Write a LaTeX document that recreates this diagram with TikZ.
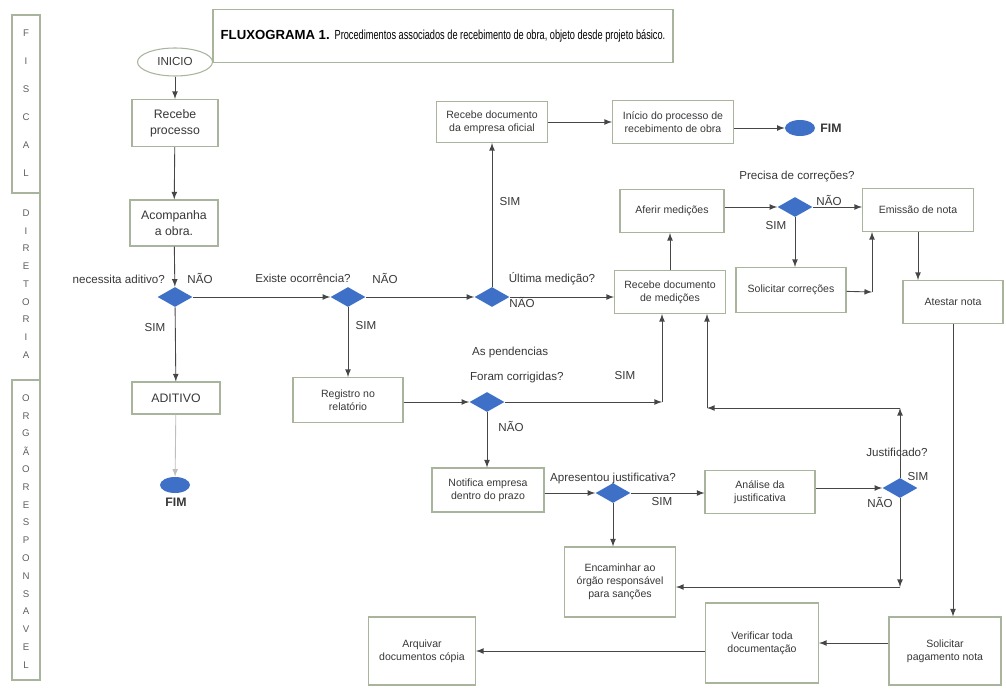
\documentclass[tikz,border=0pt]{standalone}
\usepackage{fontspec}
\setmainfont{Liberation Sans}
\usetikzlibrary{shapes.geometric}
\tikzset{>=latex}
\definecolor{boxline}{RGB}{168,180,156}
\definecolor{dblue}{RGB}{62,112,200}
\definecolor{wire}{RGB}{70,70,70}
\definecolor{ink}{RGB}{55,55,55}
\tikzset{%
    proc/.style n args={2}{draw=boxline, line width=0.6pt,%
        minimum width=#1*0.02cm, minimum height=#2*0.02cm, inner sep=1pt,%
        align=center, text=ink, font=\fontsize{6}{7.5}\selectfont%
    },%
    bigtxt/.style={font=\fontsize{7}{9}\selectfont},%
    dec/.style={diamond, fill=dblue, inner sep=0pt, minimum width=0.7cm, minimum height=0.4cm},%
    endpt/.style={ellipse, fill=dblue, inner sep=0pt, minimum width=0.6cm, minimum height=0.32cm},%
    lbl/.style={font=\fontsize{6.6}{8}\selectfont, text=ink, inner sep=1pt},%
    side/.style={font=\fontsize{5.5}{7}\selectfont, text=ink!80},%
    flow/.style={->, draw=wire, line width=0.5pt}%
}

\begin{document}
\begin{tikzpicture}[x=0.02cm,y=-0.02cm]
  \useasboundingbox (0,0) rectangle (1006,689);
  % side bar
  \draw[boxline, line width=0.7pt] (12,15) rectangle (40,193);
  \draw[boxline, line width=0.7pt] (40,193) -- (40,380);
  \draw[boxline, line width=0.7pt] (12,380) rectangle (40,680);
  \foreach \c [count=\i] in {F,I,S,C,A,L}
    \node[side] at (26,5+28*\i) {\c};
  \foreach \c [count=\i] in {D,I,R,E,T,O,R,I,A}
    \node[side] at (26,195.25+17.75*\i) {\c};
  \foreach \c [count=\i] in {O,R,G,Ã,O,R,E,S,P,O,N,S,A,V,E,L}
    \node[side] at (26,380.2+17.8*\i) {\c};

  % title
  \node[draw=boxline, line width=1pt, minimum width=460*0.02cm, minimum height=53*0.02cm,
        font=\fontsize{7.5}{9}\selectfont] (title) at (443,36)
    {\textbf{FLUXOGRAMA 1.} \scalebox{0.7}[1]{Procedimentos associados de recebimento de obra, objeto desde projeto básico.}};

  % nodes
  \node[draw=boxline, ellipse, line width=0.6pt, minimum width=75*0.02cm, minimum height=28*0.02cm,
        inner sep=0pt, lbl] (inicio) at (175,62) {INICIO};
  \node[proc={86}{47}, bigtxt] (receb) at (175,123) {Recebe\\processo};
  \node[proc={88}{46}, bigtxt] (acomp) at (174,223) {Acompanha\\a obra.};
  \node[dec] (d1) at (175,297) {};
  \node[proc={88}{32}, bigtxt] (aditivo) at (176,398) {ADITIVO};
  \node[endpt] (fim1) at (175,485) {};
  \node[lbl, font=\bfseries\fontsize{7}{9}\selectfont] (fim1t) at (176,502) {FIM};

  \node[dec] (d2) at (348,297) {};
  \node[proc={110}{45}] (registro) at (348,400) {Registro no\\relatório};
  \node[dec] (d3) at (492,297) {};
  \node[proc={111}{41}] (recemp) at (492,122) {Recebe documento\\da empresa oficial};
  \node[proc={121}{43}] (inicproc) at (673,122) {Início do processo de\\recebimento de obra};
  \node[endpt] (fim2) at (800,128) {};
  \node[lbl, font=\bfseries\fontsize{7}{9}\selectfont] (fim2t) at (831,128) {FIM};
  \node[proc={111}{43}] (recmed) at (670,292) {Recebe documento\\de medições};
  \node[proc={104}{43}] (aferir) at (672,211) {Aferir medições};
  \node[dec] (d4) at (795,207) {};
  \node[proc={111}{43}] (emissao) at (918,210) {Emissão de nota};
  \node[proc={110}{45}] (solcorr) at (791,290) {Solicitar correções};
  \node[proc={100}{43}] (atestar) at (953,302) {Atestar nota};
  \node[proc={112}{68}] (solpag) at (945,651) {Solicitar\\pagamento nota};
  \node[proc={113}{80}] (verif) at (762,643) {Verificar toda\\documentação};
  \node[proc={107}{68}] (arquivar) at (422,651) {Arquivar\\documentos cópia};
  \node[dec] (d5) at (487,402) {};
  \node[proc={112}{44}] (notif) at (488,490) {Notifica empresa\\dentro do prazo};
  \node[dec] (d6) at (613,493) {};
  \node[proc={110}{43}] (analise) at (760,492) {Análise da\\justificativa};
  \node[proc={111}{70}] (encam) at (620,582) {Encaminhar ao\\órgão responsável\\para sanções};
  \node[dec] (d7) at (900,488) {};

  % bends
  \coordinate (c5) at (662,402);
  \coordinate (c7a) at (900,408);
  \coordinate (c7b) at (707,408);
  \coordinate (c7c) at (900,587);
  \coordinate (ccorr) at (872,292);

  % connectors
  \draw[flow] (inicio) -- (receb);
  \draw[flow] (receb) -- (acomp);
  \draw[flow] (acomp) -- (d1);
  \draw[flow] (d1) -- (aditivo);
  \draw[flow, draw=wire!35] (aditivo) -- (fim1);
  \draw[flow] (d1) -- (d2);
  \draw[flow] (d2) -- (registro);
  \draw[flow] (d2) -- (d3);
  \draw[flow] (d3) -- (recemp);
  \draw[flow] (recemp) -- (inicproc);
  \draw[flow] (inicproc.east |- fim2) -- (fim2);
  \draw[flow] (d3) -- (d3 -| recmed.west);
  \draw[flow] (recmed.north) -- (recmed.north |- aferir.south);
  \draw[flow] (aferir.east |- d4) -- (d4);
  \draw[flow] (d4.east) -- (d4.east -| emissao.west);
  \draw[flow] (d4.south) -- (d4.south |- solcorr.north);
  \draw[flow] (solcorr) -- (ccorr);
  \draw[flow] (ccorr) -- (ccorr |- emissao.south);
  \draw[flow] (emissao.south) -- (emissao.south |- atestar.north);
  \draw[flow] (atestar.south) -- (atestar.south |- solpag.north);
  \draw[flow] (solpag.west |- verif) -- (verif.east);
  \draw[flow] (verif.west |- arquivar) -- (arquivar.east);
  \draw[flow] (registro.east |- d5) -- (d5);
  \draw[flow] (d5) -- (c5);
  \draw[flow] (c5) -- (c5 |- recmed.south);
  \draw[flow] (d5) -- (d5 |- notif.north);
  \draw[flow] (notif.east |- d6) -- (d6);
  \draw[flow] (d6) -- (d6 -| analise.west);
  \draw[flow] (d6) -- (d6 |- encam.north);
  \draw[flow] (analise.east |- d7) -- (d7);
  \draw[flow] (d7) -- (c7a);
  \draw[flow] (c7a) -- (c7b);
  \draw[flow] (c7b) -- (c7b |- recmed.south);
  \draw[flow] (d7) -- (c7c);
  \draw[flow] (c7c) -- (c7c -| encam.east);

  % labels
  \node[lbl, anchor=east] (q1) at (167,279) {necessita aditivo?};
  \node[lbl] (n1) at (200,278) {NÃO};
  \node[lbl] (s1) at (155,328) {SIM};
  \node[lbl] (q2) at (303,278) {Existe ocorrência?};
  \node[lbl] (n2) at (385,278) {NÃO};
  \node[lbl] (s2) at (366,326) {SIM};
  \node[lbl] (q3) at (552,279) {Última medição?};
  \node[lbl] (n3) at (522,302) {NÃO};
  \node[lbl] (s3) at (510,202) {SIM};
  \node[lbl] (q4) at (797,177) {Precisa de correções?};
  \node[lbl] (n4) at (829,200) {NÃO};
  \node[lbl] (s4) at (776,226) {SIM};
  \node[lbl, anchor=west] (q5a) at (470,352) {As pendencias};
  \node[lbl, anchor=west] (q5b) at (468,377) {Foram corrigidas?};
  \node[lbl] (s5) at (625,376) {SIM};
  \node[lbl] (n5) at (511,426) {NÃO};
  \node[lbl] (q6) at (613,478) {Apresentou justificativa?};
  \node[lbl] (s6) at (662,502) {SIM};
  \node[lbl] (q7) at (897,452) {Justificado?};
  \node[lbl] (s7) at (918,477) {SIM};
  \node[lbl] (n7) at (880,502) {NÃO};
\end{tikzpicture}
\end{document}
